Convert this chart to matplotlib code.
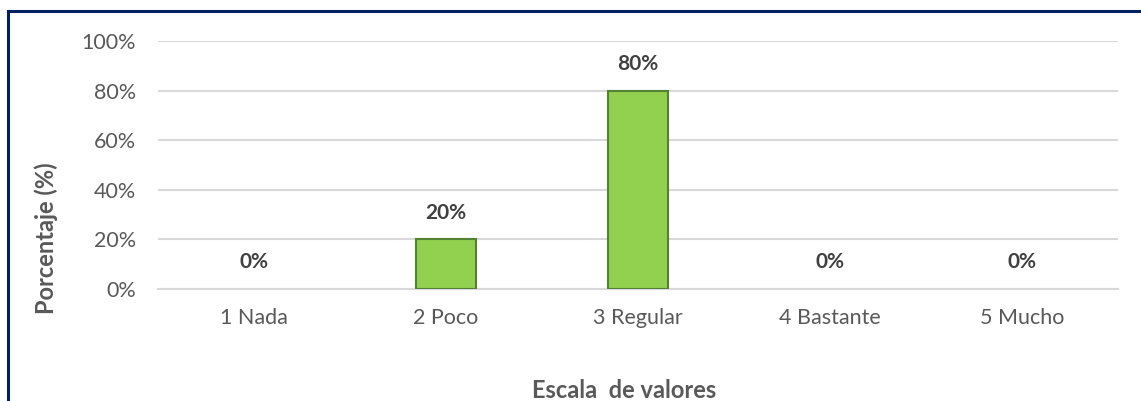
import matplotlib.pyplot as plt
from matplotlib.lines import Line2D
from matplotlib.ticker import PercentFormatter

# Datos del gráfico
categorias = ['1 Nada', '2 Poco', '3 Regular', '4 Bastante', '5 Mucho']
porcentajes = [0, 20, 80, 0, 0]
ticks_y = [0, 20, 40, 60, 80, 100]

plt.rcParams['font.family'] = ['Lato', 'DejaVu Sans']

W, H = 1141, 401
fig = plt.figure(figsize=(W / 100, H / 100), dpi=100)
ax = fig.add_axes([158 / W, 1 - 289 / H, 960 / W, 248 / H])

x = range(len(categorias))
# las barras en 0 no llevan borde
anchos_borde = [1.5 if v > 0 else 0 for v in porcentajes]
ax.bar(x, porcentajes, width=0.31, color='#92D050', edgecolor='#548235',
       linewidth=anchos_borde, zorder=3)

# Etiquetas de datos sobre las barras
for xi, v in zip(x, porcentajes):
    ax.annotate(f'{v}%', (xi, v), xytext=(0, 12), textcoords='offset points',
                ha='center', va='bottom', fontsize=15, fontweight='bold', color='#404040')

ax.set_xlim(-0.5, len(categorias) - 0.5)
ax.set_ylim(0, 100)
ax.set_yticks(ticks_y)
ax.yaxis.set_major_formatter(PercentFormatter(decimals=0))
ax.set_xticks(list(x))
ax.set_xticklabels(categorias)
ax.tick_params(axis='both', length=0, labelsize=15.5, labelcolor='#595959')
ax.tick_params(axis='x', pad=14)
ax.tick_params(axis='y', pad=16)
ax.grid(axis='y', color='#D9D9D9', linewidth=1.5, zorder=0)
for s in ['top', 'right', 'left']:
    ax.spines[s].set_visible(False)
ax.spines['bottom'].set_color('#D9D9D9')
ax.spines['bottom'].set_linewidth(1.5)

fig.text(46 / W, 1 - 238 / H, 'Porcentaje (%)', rotation=90, ha='center', va='center',
         fontsize=17, fontweight='bold', color='#595959')
fig.text(624 / W, 1 - 390 / H, 'Escala  de valores', ha='center', va='center',
         fontsize=17, fontweight='bold', color='#595959')

# Borde del cuadro (izquierda y arriba)
fig.add_artist(Line2D([8 / W, 8 / W], [0, 1 - 11 / H], transform=fig.transFigure, color='#002060', linewidth=2.2))
fig.add_artist(Line2D([8 / W, 1], [1 - 11 / H, 1 - 11 / H], transform=fig.transFigure, color='#002060', linewidth=2.2))

fig.savefig('out.png', dpi=100)
